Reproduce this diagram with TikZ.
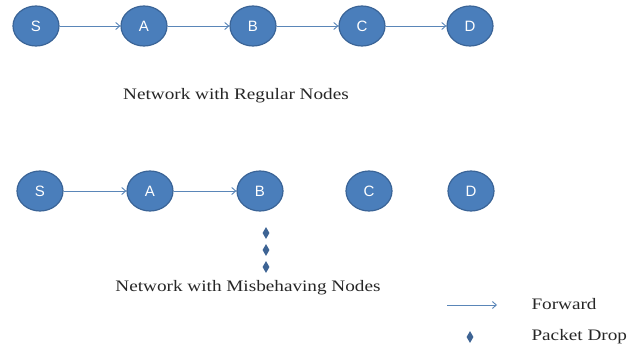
\documentclass[tikz,border=0pt]{standalone}
\usepackage{fontspec}
\setmainfont{Liberation Serif}
\newfontfamily\widefont[FakeStretch=1.2]{Liberation Serif}
\newfontfamily\labelfont{Liberation Sans}
\usetikzlibrary{arrows.meta,shapes.geometric}
\definecolor{nodeblue}{HTML}{4A7EBB}
\definecolor{nodeedge}{HTML}{3A6497}
\definecolor{linkblue}{HTML}{5A86B8}
\definecolor{dropblue}{HTML}{3E6494}
\tikzset{
  peer/.style={ellipse, fill=nodeblue, draw=nodeedge, line width=1.2pt,
    minimum width=46pt, minimum height=40pt, inner sep=0pt,
    text=white, font=\labelfont\fontsize{15}{15}\selectfont},
  link/.style={draw=linkblue, line width=0.8pt,
    -{Straight Barb[length=4pt,width=7pt,line width=0.9pt]}},
  drop/.style={diamond, fill=dropblue, draw=none, minimum width=7pt,
    minimum height=12pt, inner sep=0pt},
  caption/.style={font=\widefont\fontsize{16}{16}\selectfont, text=black!85},
}
\begin{document}
\begin{tikzpicture}[x=1pt,y=-1pt]
\useasboundingbox (0,0) rectangle (627,348);

% network with regular nodes
\node[peer] (s1) at (36,26) {S};
\node[peer] (a1) at (144,26) {A};
\node[peer] (b1) at (253,26) {B};
\node[peer] (c1) at (362,26) {C};
\node[peer] (d1) at (470,26) {D};
\draw[link] (s1) -- (a1);
\draw[link] (a1) -- (b1);
\draw[link] (b1) -- (c1);
\draw[link] (c1) -- (d1);
\node[caption] (t1) at (236,96) {Network with Regular Nodes};

% network with misbehaving nodes
\node[peer] (s2) at (40,191) {S};
\node[peer] (a2) at (150,191) {A};
\node[peer] (b2) at (260,191) {B};
\node[peer] (c2) at (369,191) {C};
\node[peer] (d2) at (471,191) {D};
\draw[link] (s2) -- (a2);
\draw[link] (a2) -- (b2);
\node[drop] (p1) at (266,233) {};
\node[drop] (p2) at (266,250) {};
\node[drop] (p3) at (266,267) {};
\node[caption] (t2) at (248,288) {Network with Misbehaving Nodes};

% legend
\coordinate (f0) at (447,305);
\coordinate (f1) at (497,305);
\draw[link] (f0) -- (f1);
\node[caption, anchor=west] (lf) at (528,304) {Forward};
\node[drop] (ld) at (470,337) {};
\node[caption, anchor=west] (lp) at (528,337) {Packet Drop};
\end{tikzpicture}
\end{document}
